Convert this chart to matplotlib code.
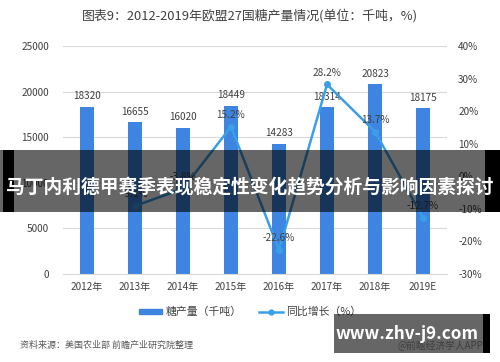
import matplotlib
matplotlib.use("Agg")
import matplotlib.pyplot as plt
from matplotlib.patches import Rectangle
from matplotlib.lines import Line2D
from matplotlib.patches import Patch

plt.rcParams['font.family'] = ['Noto Sans CJK SC', 'DejaVu Sans']

years = ["2012年", "2013年", "2014年", "2015年", "2016年", "2017年", "2018年", "2019E"]
production = [18320, 16655, 16020, 18449, 14283, 18314, 20823, 18175]
growth = [None, -9.1, -3.8, 15.2, -22.6, 28.2, 13.7, -12.7]

title = "图表9：2012-2019年欧盟27国糖产量情况(单位：千吨，%)"
banner = "马丁内利德甲赛季表现稳定性变化趋势分析与影响因素探讨"
source = "资料来源：美国农业部 前瞻产业研究院整理"
site = "www.zhv-j9.com"
app = "@前瞻经济学人APP"

bar_color = "#3d85e0"
line_color = "#3a9fe6"
text_color = "#404040"

fig = plt.figure(figsize=(5, 3.62), dpi=100)
ax = fig.add_axes([63/500, 1-274/362, 384/500, 228/362])
x = list(range(len(years)))
ax.bar(x, production, width=0.31, color=bar_color, zorder=2)
ax.set_ylim(0, 25000)
ax.set_xlim(-0.5, len(years)-0.5)
ax.set_yticks(range(0, 25001, 5000))
ax.set_xticks(x)
ax.set_xticklabels(years, fontsize=7.2, color=text_color)
ax.tick_params(axis='both', length=0, colors=text_color)
ax.tick_params(axis='y', labelsize=7.2, pad=10)
ax.tick_params(axis='x', pad=6)
ax.grid(axis='y', color='#d9d9d9', linewidth=0.8, zorder=0)
for s in ax.spines.values():
    s.set_visible(False)
ax.spines['bottom'].set_visible(True)
ax.spines['bottom'].set_color('#d9d9d9')

for xi, v in zip(x, production):
    ax.text(xi, v + 600, str(v), ha='center', va='bottom', fontsize=7.2, color=text_color, zorder=5)

ax2 = ax.twinx()
ax2.set_ylim(-30, 40)
ax2.set_yticks(range(-30, 41, 10))
ax2.set_yticklabels([f"{t}%" for t in range(-30, 41, 10)], fontsize=7.2, color=text_color)
ax2.tick_params(axis='y', length=0, pad=8)
for s in ax2.spines.values():
    s.set_visible(False)
gx = [xi for xi, g in zip(x, growth) if g is not None]
gy = [g for g in growth if g is not None]
ax2.plot(gx, gy, color=line_color, linewidth=1.8, marker='o', markersize=4, zorder=4)
for xi, g in zip(gx, gy):
    ax2.text(xi, g + 2.0, f"{g}%", ha='center', va='bottom', fontsize=7.2, color=text_color, zorder=5)

fig.text(0.5, 1-16/362, title, ha='center', va='center', fontsize=9.3, color='#404040')

handles = [Patch(color=bar_color, label="糖产量（千吨）"),
           Line2D([0], [0], color=line_color, linewidth=1.8, marker='o', markersize=3.5, label="同比增长（%）")]
fig.legend(handles=handles, loc='center', bbox_to_anchor=(0.5, 1-312/362), ncol=2,
           frameon=False, fontsize=7.8, handlelength=2.2, handleheight=0.35,
           columnspacing=1.6, handletextpad=0.3, labelcolor=text_color)

fig.text(20/500, 1-345/362, source, ha='left', va='center', fontsize=6.5, color='#595959', style='italic')

# banner overlay
fig.patches.append(Rectangle((0, 1-212/362), 1, 62/362, transform=fig.transFigure,
                             facecolor='black', alpha=0.6, zorder=10))
fig.patches.append(Rectangle((3/500, 1-212/362), 11/500, 62/362, transform=fig.transFigure,
                             facecolor='black', zorder=11))
fig.patches.append(Rectangle((485/500, 1-212/362), 15/500, 62/362, transform=fig.transFigure,
                             facecolor='black', zorder=11))
fig.text(0.5, 1-187/362, banner, ha='center', va='center', fontsize=13.5, color='white',
         fontweight='bold', zorder=12)

# site watermark
fig.text(483/500, 1-346/362, app, ha='right', va='center', fontsize=7, color='#9a9a9a', zorder=9)
fig.patches.append(Rectangle((334/500, 1-353/362), 150/500, 39/362, transform=fig.transFigure,
                             facecolor='black', alpha=0.6, zorder=10))
fig.patches.append(Rectangle((483/500, 1-353/362), 7/500, 39/362, transform=fig.transFigure,
                             facecolor='black', zorder=11))
fig.text(407/500, 1-334/362, site, ha='center', va='center', fontsize=12.3, color='white',
         fontweight='bold', zorder=12)

fig.savefig("out.png", dpi=100)
